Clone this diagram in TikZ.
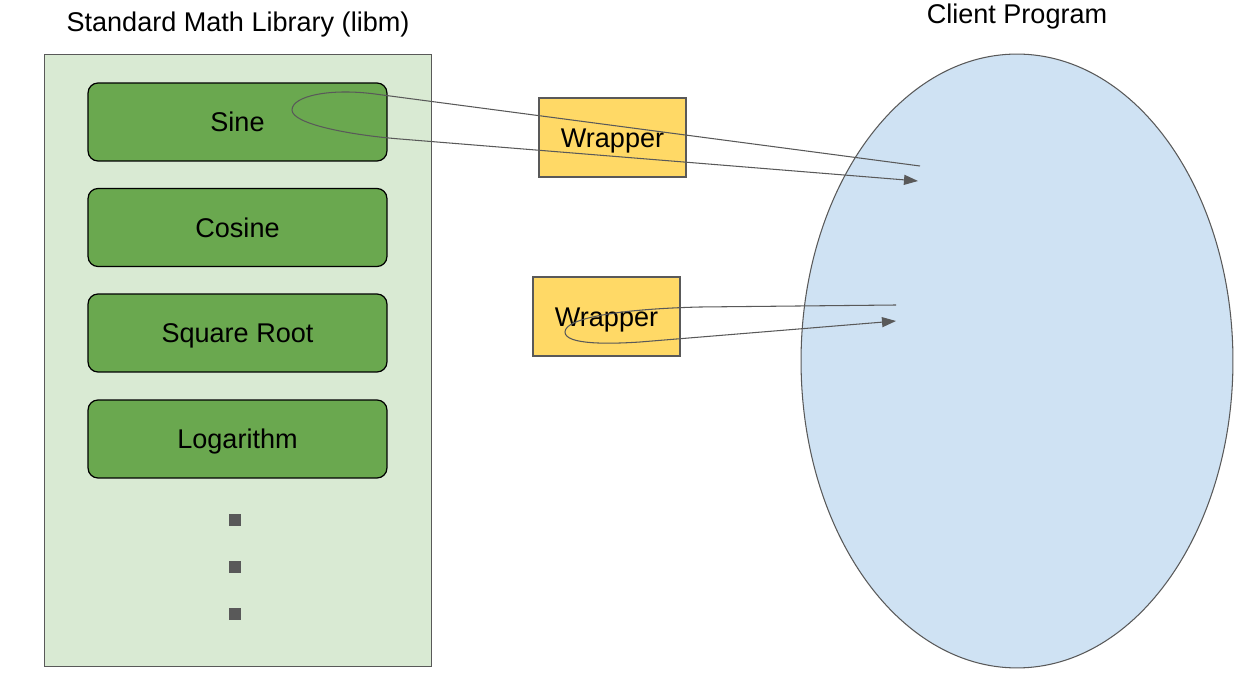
\documentclass[tikz,border=0pt]{standalone}
\usepackage{fontspec}
\setmainfont{Liberation Sans}
\usetikzlibrary{shapes.geometric, arrows.meta}
\definecolor{libgreen}{HTML}{D9EAD3}
\definecolor{fungreen}{HTML}{6AA84F}
\definecolor{wrapyellow}{HTML}{FFD966}
\definecolor{clientblue}{HTML}{CFE2F3}
\definecolor{linegray}{HTML}{595959}
\begin{document}
\begin{tikzpicture}[x=0.02cm, y=-0.02cm, font=\fontsize{15.4}{18}\selectfont,
  captext/.style={text height=11pt, text depth=0pt},
  libpanel/.style={draw=linegray, fill=libgreen, line width=0.6pt,
    minimum width=7.76cm, minimum height=12.26cm},
  funbox/.style={captext, draw=black, fill=fungreen, line width=0.7pt, rounded corners=0.2cm,
    minimum width=5.98cm, minimum height=1.56cm},
  wrapbox/.style={captext, draw=linegray, fill=wrapyellow, line width=0.6pt,
    minimum width=2.94cm, minimum height=1.58cm},
  clientshape/.style={ellipse, draw=linegray, fill=clientblue, line width=0.6pt,
    inner sep=0pt, minimum width=8.64cm, minimum height=12.28cm},
  dotmark/.style={fill=linegray, inner sep=0pt, minimum size=0.24cm},
  callpath/.style={draw=linegray, line width=0.6pt,
    -{Triangle[length=0.28cm, width=0.2cm]}}]%
  \useasboundingbox (0,0) rectangle (1242,682);
  \node[libpanel] (libm) at (238,360.5) {};
  \node[captext] (libmtitle) at (238,21.5) {Standard Math Library (libm)};
  \node[funbox] (sine) at (237.5,122) {Sine};
  \node[funbox] (cosine) at (237.5,227.5) {Cosine};
  \node[funbox] (sqroot) at (237.5,333) {Square Root};
  \node[funbox] (logarithm) at (237.5,439) {Logarithm};
  \foreach \y [count=\i] in {520, 567, 614} {
    \node[dotmark] (dot\i) at (235,\y) {};
  }
  \node[wrapbox] (wrapsine) at (612.5,137.5) {Wrapper};
  \node[wrapbox] (wrapsqrt) at (606.5,316.5) {Wrapper};
  \node[clientshape] (client) at (1017,361) {};
  \node[captext] (clienttitle) at (1017,14) {Client Program};
  \coordinate (sinefrom) at (920,166);
  \coordinate (sineloop) at (292,110);
  \coordinate (sineto) at (918,181);
  \coordinate (sqrtfrom) at (896,305);
  \coordinate (sqrtloop) at (565,332);
  \coordinate (sqrtto) at (896,321);
  \draw[callpath]
    (sinefrom)
    --
    (375,94)
    ..
    controls (330,88) and (292,96)
    ..
    (sineloop)
    ..
    controls (292,124) and (350,135)
    ..
    (400,139)
    --
    (sineto)
    ;
  \draw[callpath]
    (sqrtfrom)
    --
    (700,307)
    ..
    controls (620,309) and (565,318)
    ..
    (sqrtloop)
    ..
    controls (565,345) and (610,344)
    ..
    (640,342)
    --
    (sqrtto)
    ;
\end{tikzpicture}
\end{document}
